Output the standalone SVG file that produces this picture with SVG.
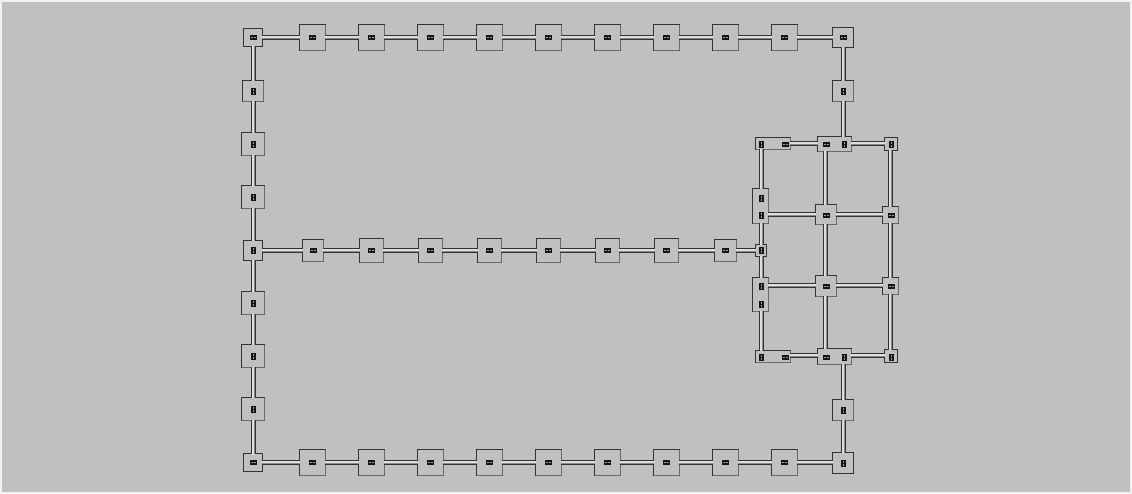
<svg xmlns="http://www.w3.org/2000/svg" width="1132" height="494" viewBox="0 0 1132 494">
<style>
.bx{fill:#c0c0c0;stroke:#333333;stroke-width:1}
.sh{fill:none;stroke:#6a6a6a;stroke-width:1}
.pf{fill:#dedede;stroke:none}
.pg{fill:none;stroke:#888888;stroke-width:1}
.pd{fill:none;stroke:#333333;stroke-width:1}
</style>
<defs>
<g id="ih"><rect x="-3" y="-2" width="7" height="5" fill="#141414"/><path d="M-2 .5h2M1 .5h2" stroke="#a0a0a0"/></g>
<g id="iv"><rect x="-2" y="-3" width="5" height="7" fill="#141414"/><path d="M.5 -2v2M.5 1v2" stroke="#a0a0a0"/></g>
</defs>
<rect x="0" y="0" width="1132" height="494" fill="#f2f2f2"/>
<rect x="2" y="2" width="1128" height="490" fill="#c0c0c0"/>

<g id="nodes-top">
<g id="n-tl"><rect class="bx" x="243.5" y="28.5" width="19" height="18"/><use href="#ih" x="253" y="37"/></g>
<g id="n-t1"><rect class="bx" x="299.5" y="24.5" width="26" height="26"/><path class="sh" d="M300 50.5H325.5V25"/><use href="#ih" x="312" y="37"/></g>
<g id="n-t2"><rect class="bx" x="358.5" y="24.5" width="26" height="26"/><path class="sh" d="M359 50.5H384.5V25"/><use href="#ih" x="371" y="37"/></g>
<g id="n-t3"><rect class="bx" x="417.5" y="24.5" width="26" height="26"/><path class="sh" d="M418 50.5H443.5V25"/><use href="#ih" x="430" y="37"/></g>
<g id="n-t4"><rect class="bx" x="476.5" y="24.5" width="26" height="26"/><path class="sh" d="M477 50.5H502.5V25"/><use href="#ih" x="489" y="37"/></g>
<g id="n-t5"><rect class="bx" x="535.5" y="24.5" width="26" height="26"/><path class="sh" d="M536 50.5H561.5V25"/><use href="#ih" x="548" y="37"/></g>
<g id="n-t6"><rect class="bx" x="594.5" y="24.5" width="26" height="26"/><path class="sh" d="M595 50.5H620.5V25"/><use href="#ih" x="607" y="37"/></g>
<g id="n-t7"><rect class="bx" x="653.5" y="24.5" width="26" height="26"/><path class="sh" d="M654 50.5H679.5V25"/><use href="#ih" x="666" y="37"/></g>
<g id="n-t8"><rect class="bx" x="712.5" y="24.5" width="26" height="26"/><path class="sh" d="M713 50.5H738.5V25"/><use href="#ih" x="725" y="37"/></g>
<g id="n-t9"><rect class="bx" x="771.5" y="24.5" width="26" height="26"/><path class="sh" d="M772 50.5H797.5V25"/><use href="#ih" x="784" y="37"/></g>
<g id="n-tr"><rect class="bx" x="832.5" y="27.5" width="21" height="20"/><use href="#ih" x="843" y="37"/></g>
</g>

<g id="nodes-left">
<g id="n-l1"><rect class="bx" x="242.5" y="80.5" width="21" height="21"/><path class="sh" d="M243 101.5H263.5V81"/><use href="#iv" x="253" y="91"/></g>
<g id="n-l2"><rect class="bx" x="241.5" y="132.5" width="23" height="23"/><path class="sh" d="M242 155.5H264.5V133"/><use href="#iv" x="253" y="144"/></g>
<g id="n-l3"><rect class="bx" x="241.5" y="185.5" width="23" height="23"/><path class="sh" d="M242 208.5H264.5V186"/><use href="#iv" x="253" y="197"/></g>
<g id="n-lm"><rect class="bx" x="243.5" y="240.5" width="19" height="20"/><use href="#iv" x="253" y="250"/></g>
<g id="n-l4"><rect class="bx" x="241.5" y="291.5" width="23" height="23"/><path class="sh" d="M242 314.5H264.5V292"/><use href="#iv" x="253" y="303"/></g>
<g id="n-l5"><rect class="bx" x="241.5" y="344.5" width="23" height="23"/><path class="sh" d="M242 367.5H264.5V345"/><use href="#iv" x="253" y="356"/></g>
<g id="n-l6"><rect class="bx" x="241.5" y="397.5" width="23" height="23"/><path class="sh" d="M242 420.5H264.5V398"/><use href="#iv" x="253" y="409"/></g>
<g id="n-bl"><rect class="bx" x="243.5" y="453.5" width="19" height="18"/><use href="#ih" x="253" y="462"/></g>
</g>

<g id="nodes-mid">
<g id="n-m1"><rect class="bx" x="302.5" y="239.5" width="21" height="22"/><path class="sh" d="M303 261.5H323.5V240"/><use href="#ih" x="313" y="250"/></g>
<g id="n-m2"><rect class="bx" x="359.5" y="238.5" width="24" height="24"/><path class="sh" d="M360 262.5H383.5V239"/><use href="#ih" x="371" y="250"/></g>
<g id="n-m3"><rect class="bx" x="418.5" y="238.5" width="24" height="24"/><path class="sh" d="M419 262.5H442.5V239"/><use href="#ih" x="430" y="250"/></g>
<g id="n-m4"><rect class="bx" x="477.5" y="238.5" width="24" height="24"/><path class="sh" d="M478 262.5H501.5V239"/><use href="#ih" x="489" y="250"/></g>
<g id="n-m5"><rect class="bx" x="536.5" y="238.5" width="24" height="24"/><path class="sh" d="M537 262.5H560.5V239"/><use href="#ih" x="548" y="250"/></g>
<g id="n-m6"><rect class="bx" x="595.5" y="238.5" width="24" height="24"/><path class="sh" d="M596 262.5H619.5V239"/><use href="#ih" x="607" y="250"/></g>
<g id="n-m7"><rect class="bx" x="654.5" y="238.5" width="24" height="24"/><path class="sh" d="M655 262.5H678.5V239"/><use href="#ih" x="666" y="250"/></g>
<g id="n-m8"><rect class="bx" x="714.5" y="239.5" width="22" height="22"/><path class="sh" d="M715 261.5H736.5V240"/><use href="#ih" x="725" y="250"/></g>
<g id="n-ms"><rect class="bx" x="755.5" y="244.5" width="11" height="12"/><use href="#iv" x="761" y="250"/></g>
</g>

<g id="nodes-bottom">
<g id="n-b1"><rect class="bx" x="299.5" y="449.5" width="26" height="26"/><path class="sh" d="M300 475.5H325.5V450"/><use href="#ih" x="312" y="462"/></g>
<g id="n-b2"><rect class="bx" x="358.5" y="449.5" width="26" height="26"/><path class="sh" d="M359 475.5H384.5V450"/><use href="#ih" x="371" y="462"/></g>
<g id="n-b3"><rect class="bx" x="417.5" y="449.5" width="26" height="26"/><path class="sh" d="M418 475.5H443.5V450"/><use href="#ih" x="430" y="462"/></g>
<g id="n-b4"><rect class="bx" x="476.5" y="449.5" width="26" height="26"/><path class="sh" d="M477 475.5H502.5V450"/><use href="#ih" x="489" y="462"/></g>
<g id="n-b5"><rect class="bx" x="535.5" y="449.5" width="26" height="26"/><path class="sh" d="M536 475.5H561.5V450"/><use href="#ih" x="548" y="462"/></g>
<g id="n-b6"><rect class="bx" x="594.5" y="449.5" width="26" height="26"/><path class="sh" d="M595 475.5H620.5V450"/><use href="#ih" x="607" y="462"/></g>
<g id="n-b7"><rect class="bx" x="653.5" y="449.5" width="26" height="26"/><path class="sh" d="M654 475.5H679.5V450"/><use href="#ih" x="666" y="462"/></g>
<g id="n-b8"><rect class="bx" x="712.5" y="449.5" width="26" height="26"/><path class="sh" d="M713 475.5H738.5V450"/><use href="#ih" x="725" y="462"/></g>
<g id="n-b9"><rect class="bx" x="771.5" y="449.5" width="26" height="26"/><path class="sh" d="M772 475.5H797.5V450"/><use href="#ih" x="784" y="462"/></g>
<g id="n-br"><rect class="bx" x="832.5" y="452.5" width="21" height="21"/><use href="#iv" x="843" y="463"/></g>
</g>

<g id="nodes-right">
<g id="n-r1"><rect class="bx" x="832.5" y="80.5" width="21" height="21"/><path class="sh" d="M833 101.5H853.5V81"/><use href="#iv" x="843" y="91"/></g>
<g id="n-r2"><rect class="bx" x="832.5" y="399.5" width="21" height="21"/><path class="sh" d="M833 420.5H853.5V400"/><use href="#iv" x="843" y="410"/></g>
</g>

<g id="nodes-grid">
<g id="g-tl"><rect class="bx" x="755.5" y="137.5" width="35" height="12"/><path class="sh" d="M756 149.5H790.5V138"/><use href="#iv" x="761" y="144"/><use href="#ih" x="785" y="144"/></g>
<g id="g-tm"><rect class="bx" x="817.5" y="136.5" width="34" height="15"/><path class="sh" d="M818 151.5H851.5V137"/><use href="#ih" x="826" y="144"/><use href="#iv" x="844" y="144"/></g>
<g id="g-tr"><rect class="bx" x="884.5" y="137.5" width="13" height="13"/><use href="#iv" x="891" y="144"/></g>
<g id="g-2l"><rect class="bx" x="752.5" y="188.5" width="16" height="35"/><path class="sh" d="M753 223.5H768.5V189"/><use href="#iv" x="761" y="198"/><use href="#iv" x="761" y="215"/></g>
<g id="g-2m"><rect class="bx" x="815.5" y="204.5" width="21" height="20"/><path class="sh" d="M816 224.5H836.5V205"/><use href="#ih" x="826" y="215"/></g>
<g id="g-2r"><rect class="bx" x="882.5" y="206.5" width="16" height="17"/><path class="sh" d="M883 223.5H898.5V207"/><use href="#ih" x="891" y="215"/></g>
<g id="g-3l"><rect class="bx" x="752.5" y="277.5" width="16" height="34"/><path class="sh" d="M753 311.5H768.5V278"/><use href="#iv" x="761" y="286"/><use href="#iv" x="761" y="304"/></g>
<g id="g-3m"><rect class="bx" x="815.5" y="275.5" width="21" height="21"/><path class="sh" d="M816 296.5H836.5V276"/><use href="#ih" x="826" y="286"/></g>
<g id="g-3r"><rect class="bx" x="882.5" y="277.5" width="16" height="17"/><path class="sh" d="M883 294.5H898.5V278"/><use href="#ih" x="891" y="286"/></g>
<g id="g-bl"><rect class="bx" x="755.5" y="350.5" width="35" height="12"/><path class="sh" d="M756 362.5H790.5V351"/><use href="#iv" x="761" y="357"/><use href="#ih" x="785" y="357"/></g>
<g id="g-bm"><rect class="bx" x="817.5" y="348.5" width="34" height="16"/><path class="sh" d="M818 364.5H851.5V349"/><use href="#ih" x="826" y="357"/><use href="#iv" x="844" y="357"/></g>
<g id="g-br"><rect class="bx" x="884.5" y="349.5" width="13" height="13"/><use href="#iv" x="891" y="357"/></g>
</g>

<g id="connectors">
<path class="pf" d="
M262 36h38v3h-38z M325 36h34v3h-34z M384 36h34v3h-34z M443 36h34v3h-34z M502 36h34v3h-34z M561 36h34v3h-34z M620 36h34v3h-34z M679 36h34v3h-34z M738 36h34v3h-34z M797 36h36v3h-36z
M262 461h38v3h-38z M325 461h34v3h-34z M384 461h34v3h-34z M443 461h34v3h-34z M502 461h34v3h-34z M561 461h34v3h-34z M620 461h34v3h-34z M679 461h34v3h-34z M738 461h34v3h-34z M797 461h36v3h-36z
M262 249h41v3h-41z M323 249h37v3h-37z M383 249h36v3h-36z M442 249h36v3h-36z M501 249h36v3h-36z M560 249h36v3h-36z M619 249h36v3h-36z M678 249h37v3h-37z M736 249h20v3h-20z
M252 46h3v35h-3z M252 101h3v32h-3z M252 155h3v31h-3z M252 208h3v33h-3z M252 260h3v32h-3z M252 314h3v31h-3z M252 367h3v31h-3z M252 420h3v35h-3z
M842 47h3v34h-3z M842 101h3v36h-3z M842 364h3v36h-3z M842 420h3v33h-3z
M790 142h28v3h-28z M851 142h34v3h-34z M768 213h48v3h-48z M836 213h47v3h-47z M768 284h48v3h-48z M836 284h47v3h-47z M790 354h28v3h-28z M851 354h34v3h-34z
M760 149h3v40h-3z M760 223h3v22h-3z M760 256h3v22h-3z M760 311h3v40h-3z
M824 151h3v54h-3z M824 224h3v52h-3z M824 296h3v53h-3z
M889 150h3v57h-3z M889 223h3v55h-3z M889 294h3v56h-3z"/>
<path class="pg" d="
M262 38.5H300 M325 38.5H359 M384 38.5H418 M443 38.5H477 M502 38.5H536 M561 38.5H595 M620 38.5H654 M679 38.5H713 M738 38.5H772 M797 38.5H833
M262 463.5H300 M325 463.5H359 M384 463.5H418 M443 463.5H477 M502 463.5H536 M561 463.5H595 M620 463.5H654 M679 463.5H713 M738 463.5H772 M797 463.5H833
M262 251.5H303 M323 251.5H360 M383 251.5H419 M442 251.5H478 M501 251.5H537 M560 251.5H596 M619 251.5H655 M678 251.5H715 M736 251.5H756
M254.5 46V81 M254.5 101V133 M254.5 155V186 M254.5 208V241 M254.5 260V292 M254.5 314V345 M254.5 367V398 M254.5 420V454
M844.5 47V81 M844.5 101V137 M844.5 364V400 M844.5 420V453
M790 144.5H818 M851 144.5H885 M768 215.5H816 M836 215.5H883 M768 286.5H816 M836 286.5H883 M790 356.5H818 M851 356.5H885
M762.5 149V189 M762.5 223V245 M762.5 256V278 M762.5 311V351
M826.5 151V205 M826.5 224V276 M826.5 296V349
M891.5 150V207 M891.5 223V278 M891.5 294V350"/>
<path class="pd" d="
M262 35.5H300M262 39.5H300 M325 35.5H359M325 39.5H359 M384 35.5H418M384 39.5H418 M443 35.5H477M443 39.5H477 M502 35.5H536M502 39.5H536 M561 35.5H595M561 39.5H595 M620 35.5H654M620 39.5H654 M679 35.5H713M679 39.5H713 M738 35.5H772M738 39.5H772 M797 35.5H833M797 39.5H833
M262 460.5H300M262 464.5H300 M325 460.5H359M325 464.5H359 M384 460.5H418M384 464.5H418 M443 460.5H477M443 464.5H477 M502 460.5H536M502 464.5H536 M561 460.5H595M561 464.5H595 M620 460.5H654M620 464.5H654 M679 460.5H713M679 464.5H713 M738 460.5H772M738 464.5H772 M797 460.5H833M797 464.5H833
M262 248.5H303M262 252.5H303 M323 248.5H360M323 252.5H360 M383 248.5H419M383 252.5H419 M442 248.5H478M442 252.5H478 M501 248.5H537M501 252.5H537 M560 248.5H596M560 252.5H596 M619 248.5H655M619 252.5H655 M678 248.5H715M678 252.5H715 M736 248.5H756M736 252.5H756
M251.5 46V81M255.5 46V81 M251.5 101V133M255.5 101V133 M251.5 155V186M255.5 155V186 M251.5 208V241M255.5 208V241 M251.5 260V292M255.5 260V292 M251.5 314V345M255.5 314V345 M251.5 367V398M255.5 367V398 M251.5 420V454M255.5 420V454
M841.5 47V81M845.5 47V81 M841.5 101V137M845.5 101V137 M841.5 364V400M845.5 364V400 M841.5 420V453M845.5 420V453
M790 141.5H818M790 145.5H818 M851 141.5H885M851 145.5H885 M768 212.5H816M768 216.5H816 M836 212.5H883M836 216.5H883 M768 283.5H816M768 287.5H816 M836 283.5H883M836 287.5H883 M790 353.5H818M790 357.5H818 M851 353.5H885M851 357.5H885
M759.5 149V189M763.5 149V189 M759.5 223V245M763.5 223V245 M759.5 256V278M763.5 256V278 M759.5 311V351M763.5 311V351
M823.5 151V205M827.5 151V205 M823.5 224V276M827.5 224V276 M823.5 296V349M827.5 296V349
M888.5 150V207M892.5 150V207 M888.5 223V278M892.5 223V278 M888.5 294V350M892.5 294V350"/>
</g>
</svg>
